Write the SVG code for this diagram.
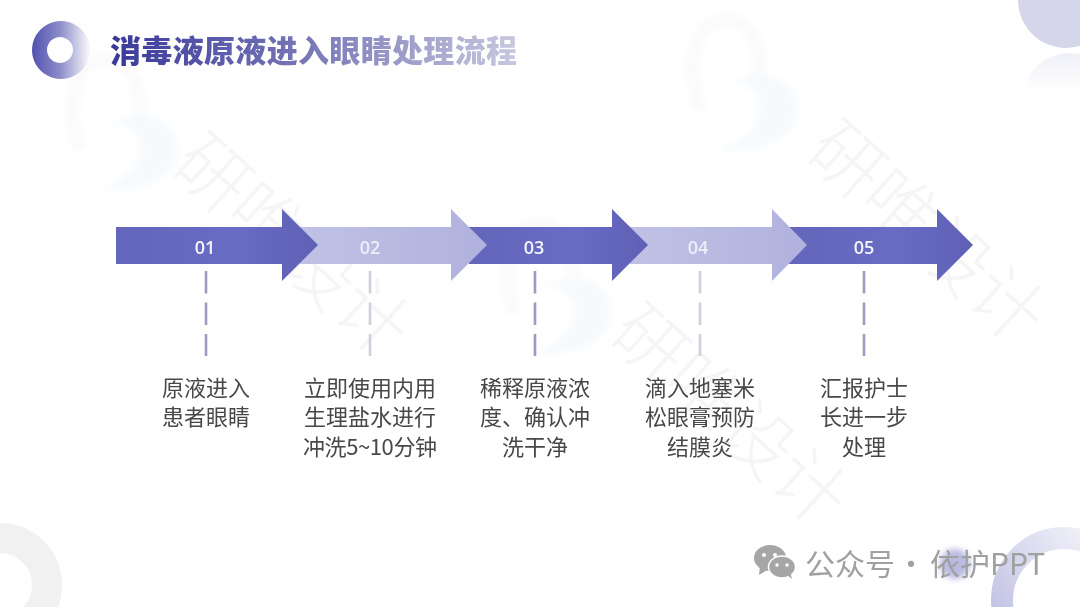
<svg xmlns="http://www.w3.org/2000/svg" width="1080" height="607" viewBox="0 0 1080 607">
<style>
.body{font-family:"Noto Sans CJK SC","Liberation Sans",sans-serif;font-size:22px;fill:#484848;text-anchor:middle;font-weight:400}
.num{font-family:"Open Sans","Liberation Sans",sans-serif;font-size:18px;font-weight:600;text-anchor:middle}
.wmt{font-family:"Noto Sans CJK SC",sans-serif;font-size:72px;font-weight:300;fill:#f5f5f7}
.dash{fill:none;stroke-width:2.6;stroke-dasharray:22.5 9}
.d{stroke:#9c9cc0}.l{stroke:#cfcfdc}
</style>
<defs>
<linearGradient id="tg" gradientUnits="userSpaceOnUse" x1="110" y1="0" x2="517" y2="0"><stop offset="0" stop-color="#38389a"/><stop offset="0.5" stop-color="#7a7ab8"/><stop offset="1" stop-color="#c8c8e0"/></linearGradient>
<linearGradient id="rg" gradientUnits="userSpaceOnUse" x1="32" y1="0" x2="88" y2="0"><stop offset="0" stop-color="#5252b0"/><stop offset="0.5" stop-color="#8c8cca"/><stop offset="1" stop-color="#f4f4fa"/></linearGradient>
<linearGradient id="fade" x1="0" y1="0" x2="0" y2="1"><stop offset="0" stop-color="#eff0f8"/><stop offset="0.4" stop-color="#ffffff"/></linearGradient>
<linearGradient id="br" gradientUnits="userSpaceOnUse" x1="990" y1="600" x2="1075" y2="530"><stop offset="0" stop-color="#c4c4e6"/><stop offset="1" stop-color="#eeeef8"/></linearGradient>
<linearGradient id="dk" x1="0" y1="0" x2="1" y2="0"><stop offset="0" stop-color="#6366ba"/><stop offset="0.6" stop-color="#686cc3"/><stop offset="1" stop-color="#5f5fb5"/></linearGradient>
<linearGradient id="lt" x1="0" y1="0" x2="1" y2="0"><stop offset="0" stop-color="#c0c1e5"/><stop offset="1" stop-color="#b0b2de"/></linearGradient>
<filter id="b3" filterUnits="userSpaceOnUse" x="0" y="0" width="1080" height="607"><feGaussianBlur stdDeviation="3"/></filter>
<filter id="b1" filterUnits="userSpaceOnUse" x="0" y="0" width="1080" height="607"><feGaussianBlur stdDeviation="0.6"/></filter>
<filter id="b4" filterUnits="userSpaceOnUse" x="0" y="0" width="1080" height="607"><feGaussianBlur stdDeviation="3"/></filter>
<g id="wm">
<path d="M12 95C-5 40 10 5 38 5C62 5 75 30 70 60" fill="none" stroke="#fafafb" stroke-width="13"/>
<path d="M40 70C70 50 110 60 110 95C110 125 70 140 30 135C60 125 75 105 70 85C65 70 50 68 40 70Z" fill="#f7fafd"/>
</g>
</defs>
<rect width="1080" height="607" fill="#ffffff"/>
<g id="decor">
<g filter="url(#b3)">
<use href="#wm" x="688" y="15"/>
<use href="#wm" x="68" y="55"/>
<use href="#wm" x="502" y="218"/>
</g>
<text class="wmt" transform="translate(169,168) rotate(42)">研唯设计</text>
<text class="wmt" transform="translate(803,155) rotate(42)">研唯设计</text>
<text class="wmt" transform="translate(606,338) rotate(42)">研唯设计</text>
<circle cx="1066" cy="0" r="48" fill="#d5d6ea" filter="url(#b1)"/>
<circle cx="1070" cy="101" r="48" fill="url(#fade)" filter="url(#b1)"/>
<circle cx="0" cy="585" r="47" fill="none" stroke="#f1f1f2" stroke-width="30" filter="url(#b1)"/>
<circle cx="1064" cy="600" r="62" fill="none" stroke="url(#br)" stroke-width="22" filter="url(#b1)"/>
<circle cx="955" cy="564" r="15" fill="#b9b9e2" filter="url(#b4)"/>
</g>
<g id="title">
<path d="M61 21a29 29 0 1 0 0.01 0ZM60 37a13 13 0 1 1 -0.01 0Z" fill="url(#rg)" fill-rule="evenodd" filter="url(#b1)"/>
<text x="110" y="62" font-family="'Noto Sans CJK SC',sans-serif" font-size="31" font-weight="900" fill="url(#tg)" textLength="407">消毒液原液进入眼睛处理流程</text>
</g>
<g id="node5">
<path d="M789 227H937V209L973 245L937 281V264H789Z" fill="url(#dk)"/>
<text class="num" x="864" y="254" fill="#f4f4fb">05</text>
<text class="body" x="864" y="396">汇报护士</text>
<text class="body" x="864" y="425">长进一步</text>
<text class="body" x="864" y="455">处理</text>
</g>
<g id="node4">
<path d="M630 227H772V209L807 245L772 281V264H630Z" fill="url(#lt)"/>
<text class="num" x="698" y="254" fill="#eeeef8">04</text>
<text class="body" x="700" y="396">滴入地塞米</text>
<text class="body" x="700" y="425">松眼膏预防</text>
<text class="body" x="700" y="455">结膜炎</text>
</g>
<g id="node3">
<path d="M469 227H612V209L648 245L612 281V264H469Z" fill="url(#dk)"/>
<text class="num" x="534" y="254" fill="#f4f4fb">03</text>
<text class="body" x="535" y="396">稀释原液浓</text>
<text class="body" x="535" y="425">度、确认冲</text>
<text class="body" x="535" y="455">洗干净</text>
</g>
<g id="node2">
<path d="M300 227H451V209L487 245L451 281V264H300Z" fill="url(#lt)"/>
<text class="num" x="370" y="254" fill="#eeeef8">02</text>
<text class="body" x="370" y="396">立即使用内用</text>
<text class="body" x="370" y="425">生理盐水进行</text>
<text class="body" x="370" y="455" textLength="134">冲洗5~10分钟</text>
</g>
<g id="node1">
<path d="M116 227H282V209L318 245L282 281V264H116Z" fill="url(#dk)"/>
<text class="num" x="205" y="254" fill="#f4f4fb">01</text>
<text class="body" x="206" y="396">原液进入</text>
<text class="body" x="206" y="425">患者眼睛</text>
</g>
<g id="connectors">
<path class="dash d" d="M206 271V356"/>
<path class="dash l" d="M370 271V356"/>
<path class="dash d" d="M535 271V356"/>
<path class="dash l" d="M700 271V356"/>
<path class="dash d" d="M864 271V356"/>
</g>
<g id="footer" filter="url(#b1)">
<ellipse cx="770" cy="558" rx="16" ry="13" fill="#a6a6a6"/>
<path d="M760 566L759 575L769 569Z" fill="#a6a6a6"/>
<ellipse cx="782" cy="567" rx="13.5" ry="11" fill="#a6a6a6" stroke="#ffffff" stroke-width="1.5"/>
<path d="M787 575L792 579L790 571Z" fill="#a6a6a6"/>
<circle cx="764" cy="555" r="2" fill="#fff"/><circle cx="775" cy="555" r="2" fill="#fff"/>
<circle cx="777" cy="565" r="1.7" fill="#fff"/><circle cx="787" cy="565" r="1.7" fill="#fff"/>
<text y="575" font-family="'Noto Sans CJK SC',sans-serif" font-size="30" font-weight="400" fill="#a0a0a0"><tspan x="805">公众号</tspan><tspan x="896">·</tspan><tspan x="930">依护PPT</tspan></text>
</g>
</svg>
